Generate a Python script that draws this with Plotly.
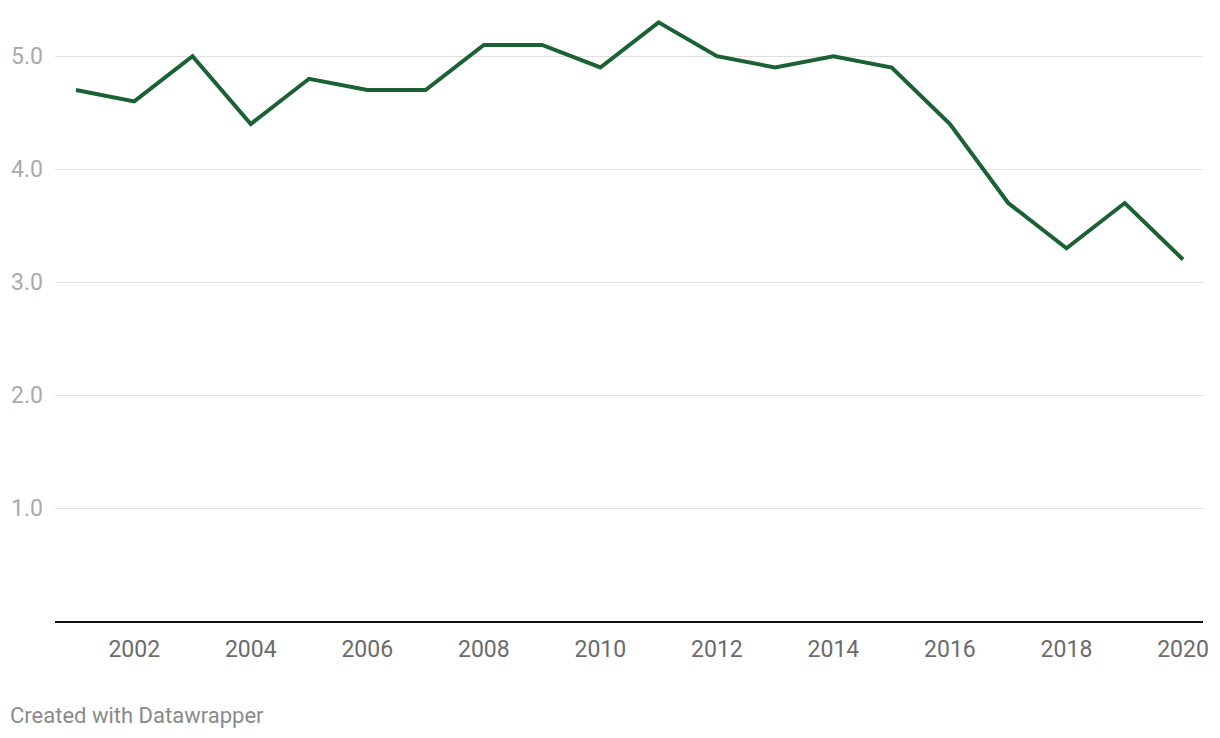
import plotly.graph_objects as go

years = list(range(2001, 2021))
values = [4.7, 4.6, 5.0, 4.4, 4.8, 4.7, 4.7, 5.1, 5.1, 4.9,
          5.3, 5.0, 4.9, 5.0, 4.9, 4.4, 3.7, 3.3, 3.7, 3.2]
y_ticks = [1, 2, 3, 4, 5]
y_tick_labels = ["1.0", "2.0", "3.0", "4.0", "5.0"]
x_ticks = list(range(2002, 2021, 2))
x_tick_labels = [str(v) for v in x_ticks]

fig = go.Figure()
fig.add_trace(go.Scatter(
    x=years, y=values, mode="lines",
    line=dict(color="#1a6133", width=4),
    hoverinfo="skip",
))

# page body has an 8px margin
W, H = 1212, 730
L, R, T, B = 47, 17, 3, 117
pw = W - L - R
ph = H - T - B
fig.update_layout(
    width=W, height=H,
    margin=dict(l=L, r=R, t=T, b=B, pad=0),
    paper_bgcolor="white", plot_bgcolor="white",
    showlegend=False,
    font=dict(family="Roboto", size=23, color="#666666"),
    xaxis=dict(
        range=[2000.64, 2020.343],
        tickvals=x_ticks, ticktext=x_tick_labels,
        showgrid=False, zeroline=False,
        showline=True, linecolor="#111111", linewidth=2,
        ticks="", ticklabelstandoff=6,
        tickfont=dict(family="Roboto", size=23, color="#6b6b6b"),
        fixedrange=True,
    ),
    yaxis=dict(
        range=[0, 5.4],
        tickvals=y_ticks, ticktext=y_tick_labels,
        showgrid=True, gridcolor="#e0e0e0", gridwidth=1,
        zeroline=False, showline=False,
        ticks="", ticklabelstandoff=11,
        tickfont=dict(family="Roboto", size=23, color="#aaaaaa"),
        fixedrange=True,
    ),
    annotations=[dict(
        text="Created with Datawrapper", xref="paper", yref="paper",
        x=(8 - 8 - L) / pw, y=-(715 - 621) / ph, xanchor="left", yanchor="middle",
        showarrow=False,
        font=dict(family="Roboto", size=22, color="#8a8a8a"),
    )],
)

fig.write_html("out.html")
